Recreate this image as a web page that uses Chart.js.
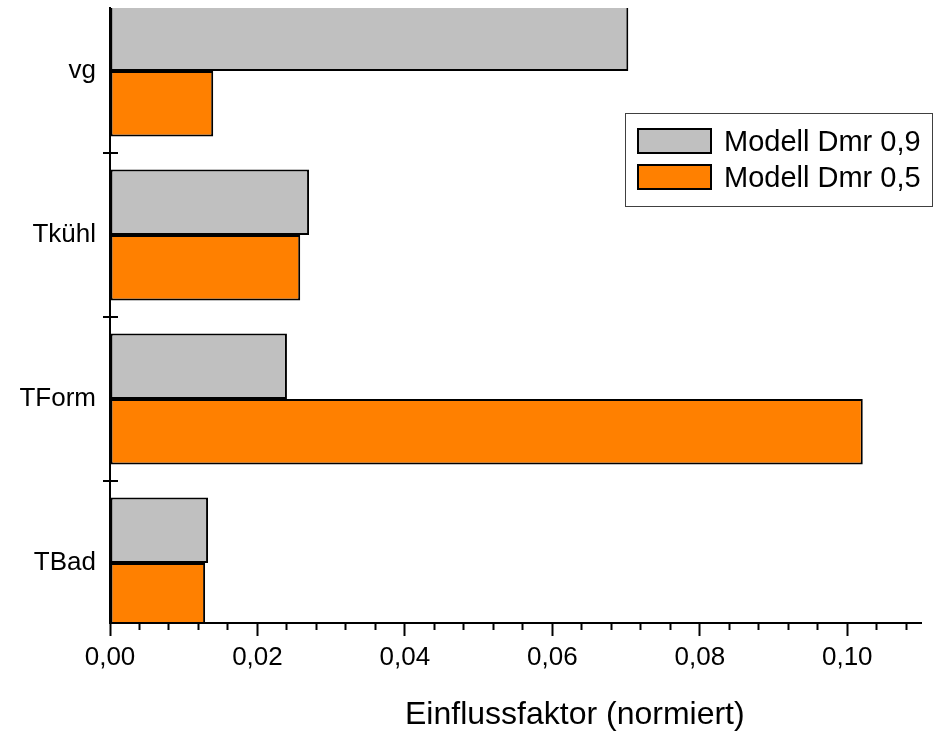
<!DOCTYPE html>
<html>
<head>
<meta charset="utf-8">
<script src="https://cdn.jsdelivr.net/npm/chart.js@4.4.0/dist/chart.umd.min.js"></script>
<style>
  body { margin: 0; background: #fff; }
  #wrap { position: relative; width: 935px; height: 734px; overflow: hidden;
          font-family: "Liberation Sans", Arial, sans-serif; }
  #legend { position: absolute; left: 625px; top: 113px; width: 308px; height: 94px;
            border: 1px solid #404040; padding-top: 9px; box-sizing: border-box; }
  .item { display: flex; align-items: center; height: 36px; }
  .box { width: 75px; height: 26px; margin-left: 11px; border: 2px solid #000; box-sizing: border-box; }
  .label { margin-left: 12px; font-size: 29px; line-height: 1; color: #000; }
  #xtitle { position: absolute; left: 405px; top: 697px; font-size: 32px; line-height: 32px;
            color: #000; white-space: nowrap; }
</style>
</head>
<body>
<div id="wrap">
  <canvas id="myChart"></canvas>
  <div id="legend"></div>
  <div id="xtitle">Einflussfaktor (normiert)</div>
</div>
<script>
var categories = ['vg', 'Tkühl', 'TForm', 'TBad'];
var dmr09 = [0.0703, 0.0270, 0.0240, 0.0133];
var dmr05 = [0.0140, 0.0258, 0.1021, 0.0129];
var seriesNames = ['Modell Dmr 0,9', 'Modell Dmr 0,5'];
var xTicks = [0.00, 0.02, 0.04, 0.06, 0.08, 0.10];

var FONT = '"Liberation Sans", Arial, sans-serif';

function isMajor(v) {
    return xTicks.some(t => Math.abs(t - v) < 1e-9);
}

// small html legend, built from the datasets
var htmlLegend = {
    id: 'htmlLegend',
    afterUpdate(chart) {
        var el = document.getElementById('legend');
        el.innerHTML = '';
        chart.data.datasets.forEach(ds => {
            var row = document.createElement('div');
            row.className = 'item';
            var box = document.createElement('div');
            box.className = 'box';
            box.style.background = ds.backgroundColor;
            var txt = document.createElement('span');
            txt.className = 'label';
            txt.textContent = ds.label;
            row.appendChild(box);
            row.appendChild(txt);
            el.appendChild(row);
        });
    }
};

var ctx = document.getElementById('myChart').getContext('2d');
var chart = new Chart(ctx, {
    type: 'bar',
    data: {
        datasets: [{
            label: seriesNames[0],
            backgroundColor: '#c0c0c0',
            borderColor: '#000',
            borderWidth: 2,
            borderSkipped: false,
            data: dmr09.map((v, i) => ({x: v, y: i}))
        }, {
            label: seriesNames[1],
            backgroundColor: '#ff8000',
            borderColor: '#000',
            borderWidth: 2,
            borderSkipped: false,
            data: dmr05.map((v, i) => ({x: v, y: i}))
        }]
    },
    options: {
        indexAxis: 'y',
        responsive: true,
        maintainAspectRatio: false,
        animation: false,
        categoryPercentage: 0.8,
        barPercentage: 1.0,
        layout: { padding: { top: 8, right: 14, left: 0, bottom: 0 } },
        plugins: {
            legend: { display: false },
            tooltip: { enabled: false }
        },
        scales: {
            x: {
                type: 'linear',
                min: 0,
                max: 0.11,
                afterFit: s => { s.height = 111; },
                border: { color: '#000', width: 2, z: 1 },
                grid: {
                    drawOnChartArea: false,
                    color: '#000',
                    tickColor: '#000',
                    tickWidth: 2,
                    tickLength: 13,
                    tickBorderDash: c => isMajor(c.tick.value) ? [] : [6, 100]
                },
                ticks: {
                    stepSize: 0.004,
                    includeBounds: false,
                    autoSkip: false,
                    maxRotation: 0,
                    padding: 6,
                    color: '#000',
                    font: { family: FONT, size: 26 },
                    callback: v => isMajor(v) ? v.toFixed(2).replace('.', ',') : ''
                }
            },
            y: {
                type: 'linear',
                offset: false,
                reverse: true,
                min: -0.384,
                max: 3.366,
                afterFit: s => { s.width = 110; s.paddingTop = 0; s.paddingBottom = 0; },
                border: { color: '#000', width: 2, z: 1, dash: [7, 3000] },
                grid: {
                    offset: true,
                    color: '#000',
                    lineWidth: 2,
                    tickColor: '#000',
                    tickWidth: 2,
                    tickLength: 7
                },
                ticks: {
                    stepSize: 1,
                    includeBounds: false,
                    padding: 7,
                    color: '#000',
                    font: { family: FONT, size: 26 },
                    callback: v => categories[v]
                }
            }
        }
    },
    plugins: [htmlLegend]
});
</script>
</body>
</html>
